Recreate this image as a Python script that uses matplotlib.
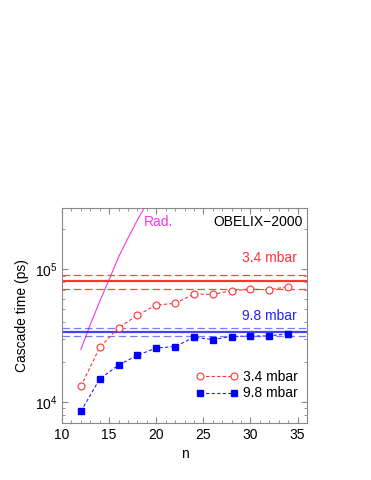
import matplotlib
matplotlib.use("Agg")
import matplotlib.pyplot as plt
from matplotlib.ticker import MultipleLocator, LogLocator, NullFormatter

plt.rcParams['font.family'] = ['Liberation Sans', 'DejaVu Sans']
plt.rcParams['font.size'] = 10

n = [12, 14, 16, 18, 20, 22, 24, 26, 28, 30, 32, 34]
t_34 = [13200, 25900, 36500, 45200, 54000, 55600, 65300, 65000, 69200, 70800, 70500, 74200]
t_98 = [8560, 15000, 19100, 22600, 25700, 26300, 30900, 29700, 31300, 31600, 31600, 32900]

# horizontal bands (central value, upper, lower)
band_34 = [81800, 91200, 71600]
band_98 = [33900, 36300, 31600]

# radiative cascade curve
n_rad = [12, 13, 14, 15, 16, 17, 18, 19]
t_rad = [25000, 38500, 57500, 84000, 124000, 172000, 235000, 315000]

red = '#ff3333'
blue = '#2222ff'

fig = plt.figure(figsize=(3.71, 4.8), dpi=100)
ax = fig.add_axes([62/371, 1-423/480, 245/371, 215/480])

ax.plot(n_rad, t_rad, color='#ff33dd', lw=0.8)

ax.axhline(band_34[0], color=red, lw=1.6)
ax.axhline(band_34[1], color=red, lw=0.9, ls=(0, (6, 3)), alpha=0.9)
ax.axhline(band_34[2], color=red, lw=0.9, ls=(0, (6, 3)), alpha=0.9)
ax.axhline(band_98[0], color=blue, lw=1.6, alpha=0.85)
ax.axhline(band_98[1], color=blue, lw=0.9, ls=(0, (6, 3)), alpha=0.6)
ax.axhline(band_98[2], color=blue, lw=0.9, ls=(0, (6, 3)), alpha=0.6)

ax.plot(n, t_34, ls=(0, (3, 2)), lw=0.8, color=red, marker='o', ms=5,
        mfc='white', mec=red, mew=0.8, label='3.4 mbar')
ax.plot(n, t_98, ls=(0, (3, 2)), lw=0.8, color=blue, marker='s', ms=4.2,
        mfc='blue', mec='blue', label='9.8 mbar')

ax.set_yscale('log')
ax.set_xlim(10, 36)
ax.set_ylim(7000, 290000)
ax.xaxis.set_major_locator(MultipleLocator(5))
ax.xaxis.set_minor_locator(MultipleLocator(1))
ax.yaxis.set_minor_locator(LogLocator(base=10, subs=range(2, 10)))
ax.yaxis.set_minor_formatter(NullFormatter())
ax.tick_params(which='both', direction='in', top=True, right=True,
               color='#888888', labelsize=10)
ax.tick_params(which='major', length=4)
ax.tick_params(which='minor', length=2)
for s in ax.spines.values():
    s.set_color('#888888')
    s.set_linewidth(0.8)

ax.set_xlabel('n')
ax.set_ylabel('Cascade time (ps)')

ax.text(18.7, 229000, 'Rad.', color='#ff33dd', fontsize=10, va='center')
ax.text(35.6, 229000, 'OBELIX\u22122000', fontsize=10, ha='right', va='center')
ax.text(34.9, 123000, '3.4 mbar', color=red, fontsize=10, ha='right', va='center')
ax.text(34.9, 44300, '9.8 mbar', color=blue, fontsize=10, ha='right', va='center')

ax.legend(loc='lower left', bbox_to_anchor=(0.545, 0.105), frameon=False,
          numpoints=2, handlelength=3.1, handletextpad=0.3, labelspacing=0.2,
          borderpad=0, borderaxespad=0, fontsize=10)

fig.savefig('out.png', dpi=100)
